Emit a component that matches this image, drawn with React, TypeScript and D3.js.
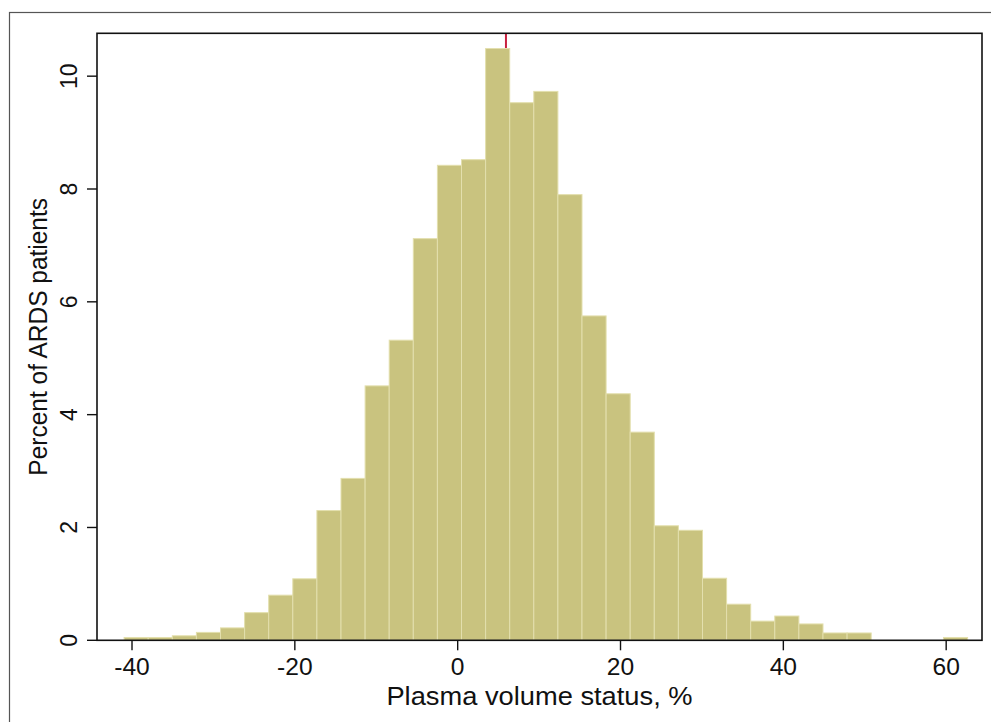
import React from "react";
import * as d3 from "d3";

// Histogram definition
const binStart = -40.97;
const binWidth = 2.96;
const percents = [
  0.05, 0.05, 0.08, 0.14, 0.22, 0.49, 0.8, 1.09, 2.3, 2.87, 4.51, 5.32, 7.12,
  8.42, 8.52, 10.49, 9.53, 9.73, 7.9, 5.75, 4.37, 3.69, 2.03, 1.95, 1.1, 0.64,
  0.34, 0.43, 0.29, 0.13, 0.13, 0, 0, 0, 0.05,
];
const xTicks = [-40, -20, 0, 20, 40, 60];
const yTicks = [0, 2, 4, 6, 8, 10];
const refLine = 5.93;
const xTitle = "Plasma volume status, %";
const yTitle = "Percent of ARDS patients";

const W = 991;
const H = 722;
const left = 97;
const right = 982;
const top = 33.3;
const bottom = 640.3;
const FONT = "'Liberation Sans', Arial, Helvetica, sans-serif";
const SX = 1.07;

export default function App() {
  const x = d3.scaleLinear().domain([-44.3, 64.4]).range([left, right]);
  const y = d3.scaleLinear().domain([0, 10.76]).range([bottom, top]);

  const bins = percents.map((v, i) => ({
    x0: binStart + i * binWidth,
    x1: binStart + (i + 1) * binWidth,
    v,
  }));

  return (
    <svg
      width={W}
      height={H}
      style={{ position: "absolute", left: 0, top: 0, background: "#fff" }}
      fontFamily={FONT}
    >
      <rect x={0} y={0} width={W} height={H} fill="#fff" />
      {/* outer frame */}
      <rect x={9.5} y={12.5} width={W + 20} height={H + 20} fill="none" stroke="#555" strokeWidth={1.2} />
      {/* reference line behind bars */}
      <line x1={x(refLine)} x2={x(refLine)} y1={top} y2={bottom} stroke="#C8203F" strokeWidth={2} />
      {/* bars */}
      {bins
        .filter((b) => b.v > 0)
        .map((b, i) => (
          <rect
            key={i}
            x={x(b.x0)}
            y={y(b.v)}
            width={x(b.x1) - x(b.x0)}
            height={y(0) - y(b.v)}
            fill="#C9C37F"
            stroke="#E3DFAD"
            strokeWidth={1}
          />
        ))}
      {/* plot box */}
      <rect x={left} y={top} width={right - left} height={bottom - top} fill="none" stroke="#111" strokeWidth={1.6} />
      {/* y ticks */}
      {yTicks.map((t) => (
        <g key={"y" + t}>
          <line x1={left - 10} x2={left} y1={y(t)} y2={y(t)} stroke="#111" strokeWidth={1.4} />
          <g transform={`translate(77,${y(t)}) scale(${SX},1)`}>
            <text transform="rotate(-90)" textAnchor="middle" fontSize={23} fill="#111">
              {t}
            </text>
          </g>
        </g>
      ))}
      {/* x ticks */}
      {xTicks.map((t) => (
        <g key={"x" + t}>
          <line x1={x(t)} x2={x(t)} y1={bottom} y2={bottom + 10} stroke="#111" strokeWidth={1.4} />
          <g transform={`translate(${x(t)},675) scale(${SX},1)`}>
            <text textAnchor="middle" fontSize={23} fill="#111">
              {t}
            </text>
          </g>
        </g>
      ))}
      {/* axis titles */}
      <g transform={`translate(${(left + right) / 2},705) scale(${SX},1)`}>
        <text textAnchor="middle" fontSize={25.5} fill="#111">
          {xTitle}
        </text>
      </g>
      <g transform={`translate(47,${(top + bottom) / 2}) scale(${SX},1)`}>
        <text transform="rotate(-90)" textAnchor="middle" fontSize={24.5} fill="#111">
          {yTitle}
        </text>
      </g>
    </svg>
  );
}
